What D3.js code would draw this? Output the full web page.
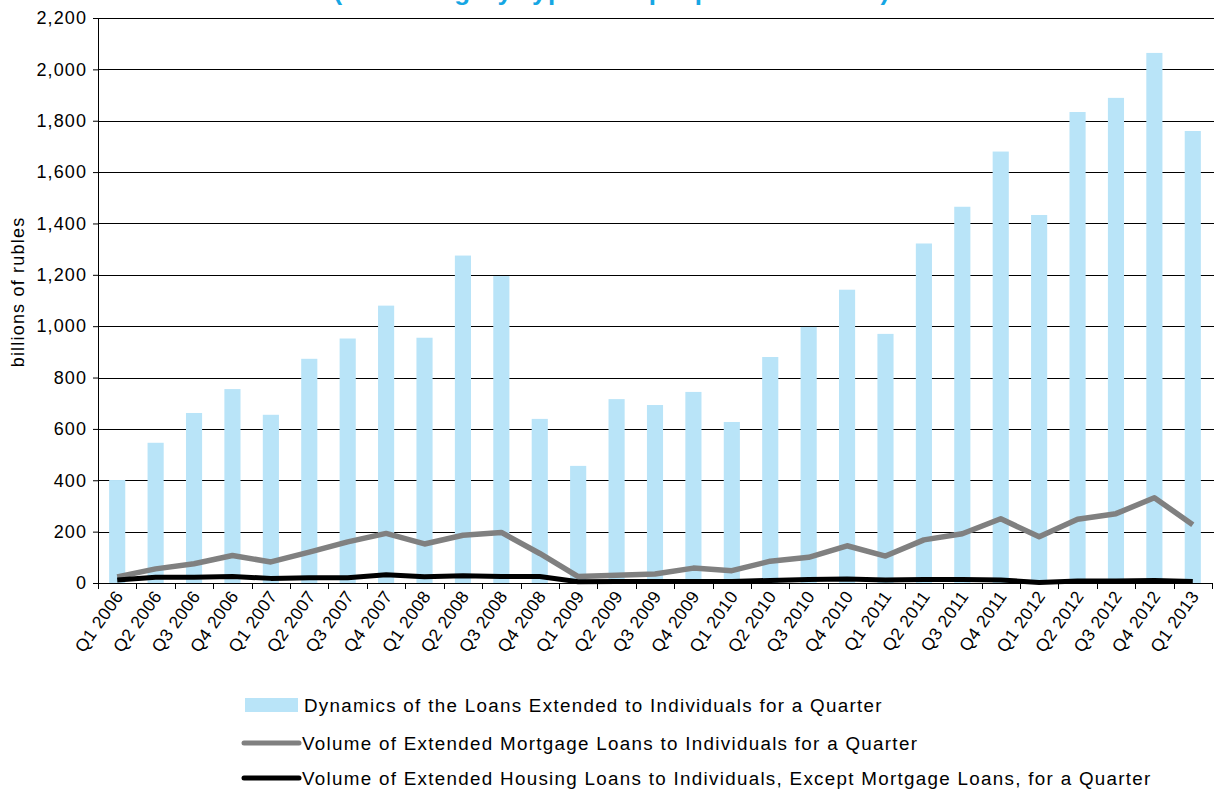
<!DOCTYPE html>
<html><head><meta charset="utf-8">
<script src="https://cdn.jsdelivr.net/npm/d3@7"></script>
<style>body{margin:0;background:#fff}svg{display:block;font-family:"Liberation Sans",Arial,sans-serif}</style>
</head><body><svg id="c" width="1214" height="791"></svg>
<script>
const categories = ["Q1 2006","Q2 2006","Q3 2006","Q4 2006","Q1 2007","Q2 2007","Q3 2007","Q4 2007","Q1 2008","Q2 2008","Q3 2008","Q4 2008","Q1 2009","Q2 2009","Q3 2009","Q4 2009","Q1 2010","Q2 2010","Q3 2010","Q4 2010","Q1 2011","Q2 2011","Q3 2011","Q4 2011","Q1 2012","Q2 2012","Q3 2012","Q4 2012","Q1 2013"];
const loansTotal = [401,546,662,755,655,873,952,1080,955,1275,1195,639,456,716,693,744,627,880,997,1142,970,1322,1465,1680,1433,1834,1889,2064,1760];
const mortgage = [24,55,75,107,82,120,160,193,152,186,197,115,25,30,35,58,48,85,100,145,105,168,192,250,180,248,270,332,227];
const housing = [12,22,22,25,18,20,20,32,24,28,25,25,5,6,6,6,6,10,14,16,12,14,14,12,2,8,8,10,6];
const yTicks = [0,200,400,600,800,1000,1200,1400,1600,1800,2000,2200];
const legendLabels = ["Dynamics of the Loans Extended to Individuals for a Quarter","Volume of Extended Mortgage Loans to Individuals  for a Quarter","Volume of Extended Housing Loans to Individuals, Except Mortgage Loans, for a Quarter"];
const titleText = "(including by type and purpose of loans)";

const svg = d3.select("#c");
const L=98, R=1212, T=18, B=583;
const x = d3.scaleBand().domain(categories).range([L,R]).paddingInner(0.58).paddingOuter(0.29);
const xc = d => x(d)+x.bandwidth()/2;
const y = d3.scaleLinear().domain([0,2200]).range([B,T]);

// title (clipped at top, as in reference)
svg.append("text").attr("x",612).attr("y",0).attr("text-anchor","middle")
  .attr("font-size",26).attr("font-weight","bold").attr("letter-spacing",1.4).attr("fill","#16a6e3").text(titleText);

// gridlines
svg.append("g").selectAll("line").data(yTicks.slice(1)).join("line")
  .attr("x1",L).attr("x2",1214).attr("y1",d=>Math.round(y(d))+0.5).attr("y2",d=>Math.round(y(d))+0.5)
  .attr("stroke","#000").attr("stroke-width",1);

// bars
svg.append("g").selectAll("rect").data(loansTotal).join("rect")
  .attr("x",(d,i)=>x(categories[i])).attr("width",x.bandwidth())
  .attr("y",d=>y(d)).attr("height",d=>B-y(d)).attr("fill","#b9e4f8");

// y axis
const ya = svg.append("g").attr("transform",`translate(${L},0)`)
  .call(d3.axisLeft(y).tickValues(yTicks).tickFormat(d3.format(",")).tickSize(5).tickSizeOuter(0));
ya.select(".domain").attr("stroke","#000");
ya.selectAll("text").attr("font-size",18).attr("letter-spacing",1.1).attr("fill","#000").attr("font-family","Liberation Sans, Arial, sans-serif").attr("dx","-3");

// x axis
const xa = svg.append("g").attr("transform",`translate(0,${B})`);
xa.append("line").attr("x1",L).attr("x2",R).attr("y1",0.5).attr("y2",0.5).attr("stroke","#000");
xa.selectAll("line.t").data(d3.range(categories.length+1)).join("line").attr("class","t")
  .attr("x1",i=>Math.round(L+i*(R-L)/categories.length)+0.5).attr("x2",i=>Math.round(L+i*(R-L)/categories.length)+0.5)
  .attr("y1",0).attr("y2",6).attr("stroke","#000");
xa.selectAll("text").data(categories).join("text")
  .attr("transform",d=>`translate(${xc(d)+7},${13}) rotate(-55)`)
  .attr("text-anchor","end").attr("font-size",17.5).attr("letter-spacing",0.5).attr("fill","#000").text(d=>d);

// lines
const line = arr => d3.line().x((d,i)=>xc(categories[i])).y(d=>y(d))(arr);
svg.append("path").attr("d",line(mortgage)).attr("fill","none").attr("stroke","#808080").attr("stroke-width",5.5).attr("stroke-linejoin","round");
svg.append("path").attr("d",line(housing)).attr("fill","none").attr("stroke","#000").attr("stroke-width",5).attr("stroke-linejoin","round");

// y title
svg.append("text").attr("transform","translate(24,292) rotate(-90)").attr("text-anchor","middle")
  .attr("font-size",18).attr("letter-spacing",1.2).attr("fill","#000").text("billions of rubles");

// legend
const lg = svg.append("g");
lg.append("rect").attr("x",245).attr("y",698).attr("width",53).attr("height",14).attr("fill","#b9e4f8");
lg.append("line").attr("x1",244).attr("x2",299).attr("y1",743).attr("y2",743).attr("stroke","#808080").attr("stroke-width",5).attr("stroke-linecap","round");
lg.append("line").attr("x1",244).attr("x2",299).attr("y1",778).attr("y2",778).attr("stroke","#000").attr("stroke-width",5).attr("stroke-linecap","round");
lg.selectAll("text").data(legendLabels).join("text")
  .attr("x",(d,i)=>[304,302,302][i]).attr("y",(d,i)=>[705,743,778][i]).attr("dy","0.35em")
  .attr("font-size",18.8).attr("letter-spacing",1.3).attr("fill","#000").text(d=>d);
</script></body></html>
